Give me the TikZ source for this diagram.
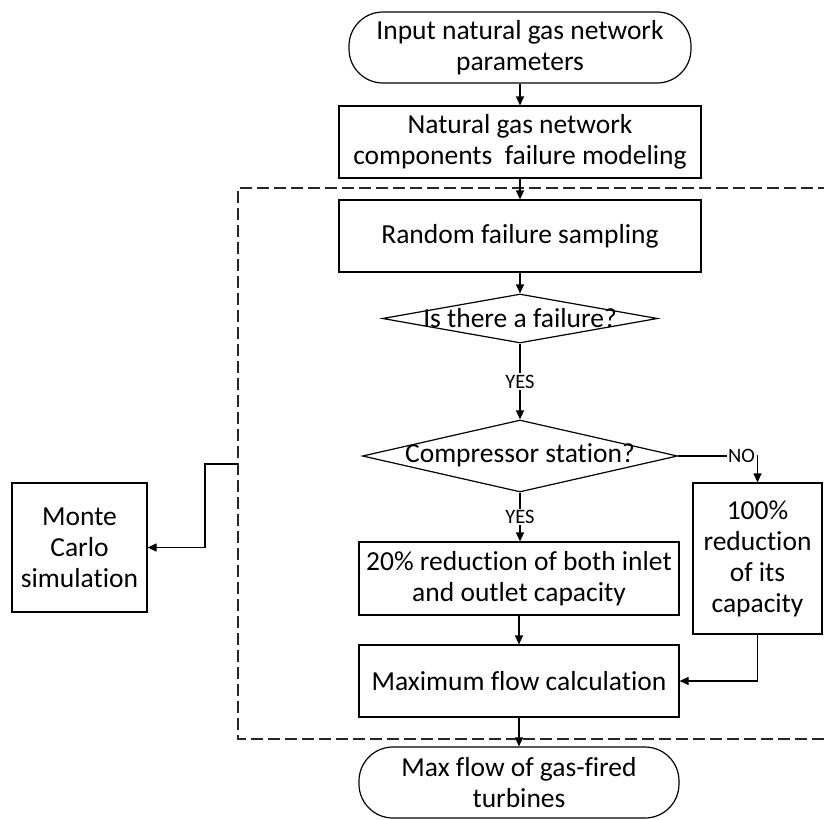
\documentclass[tikz,border=0pt]{standalone}
\usepackage{fontspec}
\setmainfont{Carlito}[Ligatures=NoCommon]
\usetikzlibrary{shapes.geometric,arrows.meta}
\begin{document}
\begin{tikzpicture}[x=1pt,y=-1pt,
  every node/.style={font=\fontsize{27.5}{31}\selectfont, align=center, inner sep=0pt},
  box/.style={draw, line width=1.2pt, rectangle},
  term/.style={draw, line width=1.2pt, rectangle, rounded corners=34pt},
  dia/.style={draw, line width=1.2pt, diamond},
  arr/.style={line width=1.2pt, -{Triangle[length=9pt,width=8pt]}},
  lbl/.style={font=\fontsize{20.5}{24}\selectfont, fill=white, inner sep=1.5pt},
  dashbox/.style={line width=1.2pt, dash pattern=on 12pt off 5pt, draw=black!85}
]
\useasboundingbox (0,0) rectangle (824,819);

% dashed Monte Carlo region
\draw[dashbox] (830,188) -- (238,188) -- (238,739) -- (830,739);

\node[term, minimum width=342pt, minimum height=71pt] (start) at (520,47.5)
  {Input natural gas network\\parameters};
\node[box, minimum width=362pt, minimum height=72pt] (model) at (520,142)
  {Natural gas network\\components\ \ failure modeling};
\node[box, minimum width=362pt, minimum height=72pt] (rand) at (520,236)
  {Random failure sampling};
\node[dia, minimum width=275pt, minimum height=49pt] (d1) at (520,318.5) {};
\node (d1t) at (520,318) {Is there a failure?};
\node[dia, minimum width=315pt, minimum height=72pt] (d2) at (520,456) {};
\node (d2t) at (520,455) {Compressor station?};
\node[box, minimum width=320pt, minimum height=73pt] (b20) at (519,578.5)
  {20\% reduction of both inlet\\and outlet capacity};
\node[box, minimum width=129pt, minimum height=151pt] (b100) at (757.5,558.5)
  {100\%\\reduction\\of its\\capacity};
\node[box, minimum width=320pt, minimum height=72pt] (calc) at (519,681)
  {Maximum flow calculation};
\node[term, minimum width=320pt, minimum height=71pt] (end) at (519,782.5)
  {Max flow of gas-fired\\turbines};
\node[box, minimum width=135pt, minimum height=129pt] (mc) at (79.5,547.5)
  {Monte\\Carlo\\simulation};

\coordinate (mcs) at (238,464);
\coordinate (mcb) at (205,464);

\draw[arr] (start.south) -- (model.north);
\draw[arr] (model.south) -- (rand.north);
\draw[arr] (rand.south) -- (d1.north);
\draw[arr] (d1.south) -- node[lbl] {YES} (d2.north);
\draw[arr] (d2.south) -- node[lbl] {YES} (d2.south |- b20.north);
\draw[arr] (d2.east) -- node[lbl, pos=0.8] {NO} (b100.north |- d2.east) -- (b100.north);
\draw[arr] (b20.south) -- (calc.north);
\draw[arr] (b100.south) |- (calc.east);
\draw[arr] (calc.south) -- (end.north);
\draw[arr] (mcs) -- (mcb) |- (mc.east);
\end{tikzpicture}
\end{document}
